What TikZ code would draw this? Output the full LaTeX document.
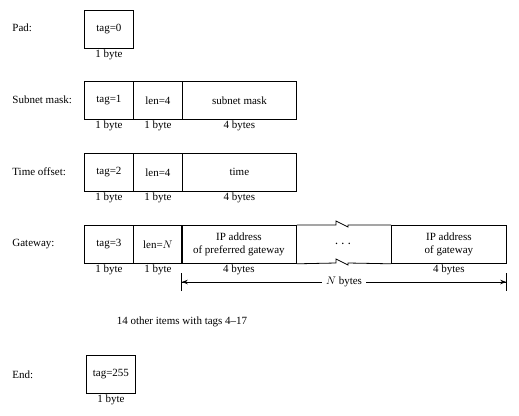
\documentclass[tikz,border=0pt]{standalone}
\usepackage{fontspec}
\setmainfont{Liberation Serif}
\usetikzlibrary{arrows.meta}

\begin{document}
\begin{tikzpicture}[x=1pt, y=-1pt, line width=0.8pt, font=\fontsize{11}{12.5}\selectfont,
  cell/.style={draw, minimum height=38pt, inner sep=0pt, anchor=north west},
  onebyte/.style={cell, minimum width=49pt},
  fourbyte/.style={cell, minimum width=115pt},
  bytes/.style={below, inner sep=1pt},
  rowlabel/.style={anchor=west, inner sep=0pt},
  span/.style={{Bar[width=18pt]Stealth[length=6pt]}-{Stealth[length=6pt]Bar[width=18pt]}}]
\useasboundingbox (0,0) rectangle (519,415);
% pad
\node[rowlabel] (padl) at (12,28) {Pad:};
\node[onebyte] (pad) at (84,9.5) {tag=0};
\node[bytes] (padb) at (pad.south) {1 byte};
% subnet mask
\node[rowlabel] (subl) at (12,100) {Subnet mask:};
\node[onebyte] (sub1) at (84,81) {tag=1};
\node[onebyte] (sub2) at (133,81) {len=4};
\node[cell, minimum width=114pt] (sub3) at (182,81) {subnet mask};
\node[bytes] (sub1b) at (sub1.south) {1 byte};
\node[bytes] (sub2b) at (sub2.south) {1 byte};
\node[bytes] (sub3b) at (sub3.south) {4 bytes};
% time offset
\node[rowlabel] (timl) at (12,172) {Time offset:};
\node[onebyte] (tim1) at (84,153) {tag=2};
\node[onebyte] (tim2) at (133,153) {len=4};
\node[cell, minimum width=114pt] (tim3) at (182,153) {time};
\node[bytes] (tim1b) at (tim1.south) {1 byte};
\node[bytes] (tim2b) at (tim2.south) {1 byte};
\node[bytes] (tim3b) at (tim3.south) {4 bytes};
% gateway
\node[rowlabel] (gwl) at (12,244) {Gateway:};
\node[onebyte] (gw1) at (84,225) {tag=3};
\node[onebyte] (gw2) at (133,225) {len=$N$};
\node[fourbyte, align=center] (gw3) at (181,225) {IP address\\of preferred gateway};
\node[fourbyte, align=center] (gw4) at (391,225) {IP address\\of gateway};
\node[bytes] (gw1b) at (gw1.south) {1 byte};
\node[bytes] (gw2b) at (gw2.south) {1 byte};
\node[bytes] (gw3b) at (gw3.south) {4 bytes};
\node[bytes] (gw4b) at (gw4.south) {4 bytes};
\draw (gw3.north east) -- (336,225) -- ++(0,-4) -- (348,227) -- ++(0,-2) -- (gw4.north west);
\draw (gw3.south east) -- (336,263) -- ++(0,-4) -- (348,265) -- ++(0,-2) -- (gw4.south west);
\node[font=\Large] (gwdots) at (343,244) {$\cdots$};
\coordinate (nl) at (181,282);
\coordinate (nr) at (507,282);
\draw[span] (nl) -- node[fill=white, inner sep=4pt] (nbytes) {$N$ bytes} (nr);
% others
\node (other) at (182,322) {14 other items with tags 4\textendash17};
% end
\node[rowlabel] (endl) at (12,375) {End:};
\node[onebyte] (endbox) at (86,355) {tag=255};
\node[bytes] (endb) at (endbox.south) {1 byte};
\end{tikzpicture}
\end{document}
